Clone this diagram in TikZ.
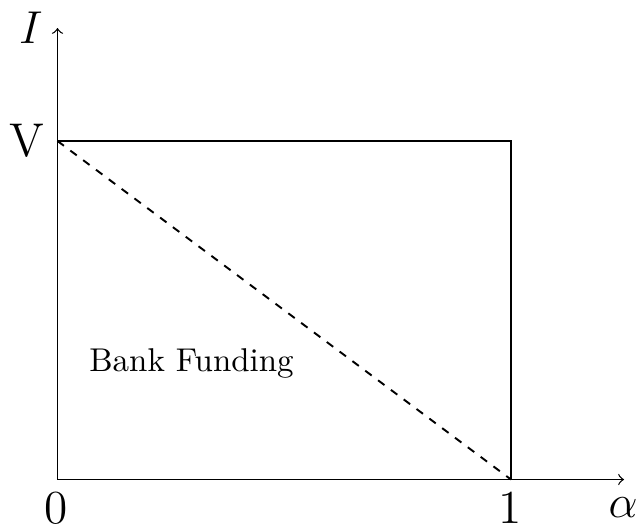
\documentclass[tikz,border=0pt]{standalone}
\begin{document}
\begin{tikzpicture}[x=0.3125pt,y=-0.3125pt,
  axis/.style={->,line width=0.4pt},
  edge/.style={line width=0.4pt},
  dashedge/.style={line width=0.6pt,dash pattern=on 2.5pt off 2.5pt},
  lbl/.style={font=\fontsize{14.8}{17}\selectfont,inner sep=0pt}]
\useasboundingbox (0,0) rectangle (639,525);
\coordinate (O) at (57.5,479.5);
\coordinate (ytop) at (57.5,28);
\coordinate (xend) at (624,479.5);
\coordinate (V) at (57.5,141);
\coordinate (C) at (511,141);
\coordinate (B) at (511,479.5);
\draw[axis] (O) -- (ytop);
\draw[axis] (O) -- (xend);
\draw[edge] (V) -- (C) -- (B);
\draw[dashedge] (V) -- (B);
\node[lbl] (Ilab) at (31,27.5) {$I$};
\node[lbl] (Vlab) at (27,140.5) {V};
\node[lbl] (zero) at (56,508) {0};
\node[lbl] (one) at (510,508) {1};
\node[lbl] (alpha) at (623,507.5) {$\alpha$};
\node[anchor=base,inner sep=0pt,font=\fontsize{10.3}{12}\selectfont] (bank) at (191.5,371.5) {Bank Funding};
\end{tikzpicture}
\end{document}
